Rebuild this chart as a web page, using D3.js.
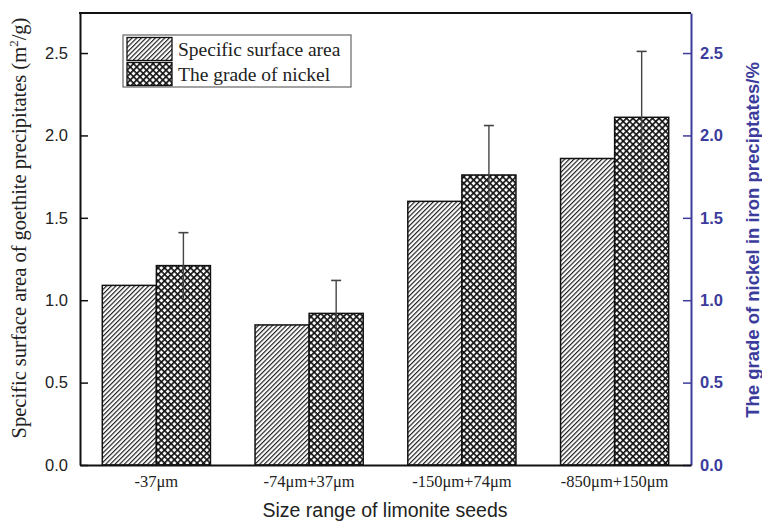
<!DOCTYPE html>
<html>
<head>
<meta charset="utf-8">
<title>Limonite seeds</title>
<script src="https://cdnjs.cloudflare.com/ajax/libs/d3/7.8.5/d3.min.js"></script>
<style>
  body { margin: 0; background: #fff; }
  svg { display: block; }
  .serif { font-family: "Liberation Serif", "Times New Roman", serif; }
  .sans { font-family: "Liberation Sans", Arial, Helvetica, sans-serif; }
</style>
</head>
<body>
<script>
    // data
    const categories = ['-37\u03bcm', '-74\u03bcm+37\u03bcm', '-150\u03bcm+74\u03bcm', '-850\u03bcm+150\u03bcm'];
    const surfaceArea = [1.09, 0.85, 1.60, 1.86];
    const nickelGrade = [1.21, 0.92, 1.76, 2.11];
    const nickelErr = [0.20, 0.20, 0.30, 0.40];
    const yTicks = [0, 0.5, 1.0, 1.5, 2.0, 2.5];
    const seriesNames = ['Specific surface area', 'The grade of nickel'];

    const W = 762, H = 522;
    const margin = {top: 13, right: 71, bottom: 57, left: 80};
    const iw = W - margin.left - margin.right;
    const ih = H - margin.top - margin.bottom;
    const blue = '#3c3c9c';

    const svg = d3.select('body').append('svg')
        .attr('width', W)
        .attr('height', H);

    // hatch patterns
    const defs = svg.append('defs');
    const diag = defs.append('pattern')
        .attr('id', 'diag')
        .attr('patternUnits', 'userSpaceOnUse')
        .attr('width', 3.3).attr('height', 10)
        .attr('patternTransform', 'rotate(45)');
    diag.append('rect').attr('width', 3.3).attr('height', 10).attr('fill', '#fff');
    diag.append('line').attr('x1', 0.6).attr('y1', 0).attr('x2', 0.6).attr('y2', 10)
        .attr('stroke', '#111').attr('stroke-width', 1.1);

    const cross = defs.append('pattern')
        .attr('id', 'cross')
        .attr('patternUnits', 'userSpaceOnUse')
        .attr('width', 4.6).attr('height', 4.6)
        .attr('patternTransform', 'rotate(45)');
    cross.append('rect').attr('width', 4.6).attr('height', 4.6).attr('fill', '#fff');
    cross.append('path').attr('d', 'M0.8,0V4.6M0,0.8H4.6')
        .attr('stroke', '#111').attr('stroke-width', 1.7);

    const g = svg.append('g')
        .attr('transform', `translate(${margin.left},${margin.top})`);

    const x = d3.scaleBand().domain(categories).range([0, iw]).padding(0);
    const barW = x.bandwidth() * 0.354;
    const y = d3.scaleLinear().domain([0, 2.743]).range([ih, 0]);
    const y2 = d3.scaleLinear().domain([0, 2.743]).range([ih, 0]);

    // bars
    g.selectAll('rect.area').data(surfaceArea).enter()
        .append('rect')
        .attr('class', 'area')
        .attr('x', (d, i) => x(categories[i]) + x.bandwidth() / 2 - barW)
        .attr('y', d => y(d))
        .attr('width', barW)
        .attr('height', d => ih - y(d))
        .attr('fill', 'url(#diag)')
        .attr('stroke', '#111')
        .attr('stroke-width', 1.5);

    g.selectAll('rect.nickel').data(nickelGrade).enter()
        .append('rect')
        .attr('class', 'nickel')
        .attr('x', (d, i) => x(categories[i]) + x.bandwidth() / 2)
        .attr('y', d => y2(d))
        .attr('width', barW)
        .attr('height', d => ih - y2(d))
        .attr('fill', 'url(#cross)')
        .attr('stroke', '#111')
        .attr('stroke-width', 1.5);

    // error bars on nickel grade
    const err = g.selectAll('g.err').data(nickelGrade).enter()
        .append('g').attr('class', 'err')
        .attr('transform', (d, i) => `translate(${x(categories[i]) + x.bandwidth() / 2 + barW / 2},0)`);
    err.append('line')
        .attr('y1', (d, i) => y2(d - nickelErr[i]))
        .attr('y2', (d, i) => y2(d + nickelErr[i]))
        .attr('stroke', '#444').attr('stroke-width', 1.4);
    err.append('line')
        .attr('x1', -5).attr('x2', 5)
        .attr('y1', (d, i) => y2(d + nickelErr[i]))
        .attr('y2', (d, i) => y2(d + nickelErr[i]))
        .attr('stroke', '#444').attr('stroke-width', 1.6);

    // left axis
    const yAxis = g.append('g')
        .call(d3.axisLeft(y).tickValues(yTicks).tickFormat(d3.format('.1f')).tickSizeInner(-8).tickSizeOuter(0).tickPadding(12));
    yAxis.select('.domain').attr('stroke', '#111').attr('stroke-width', 2);
    yAxis.selectAll('.tick line').attr('stroke', '#111').attr('stroke-width', 1.5);
    yAxis.selectAll('.tick text').attr('class', 'sans').attr('font-size', 16.5).attr('fill', '#222');

    // right axis
    const y2Axis = g.append('g')
        .attr('transform', `translate(${iw},0)`)
        .call(d3.axisRight(y2).tickValues(yTicks).tickFormat(d3.format('.1f')).tickSizeInner(-8).tickSizeOuter(0).tickPadding(9));
    y2Axis.select('.domain').attr('stroke', blue).attr('stroke-width', 2);
    y2Axis.selectAll('.tick line').attr('stroke', blue).attr('stroke-width', 1.5);
    y2Axis.selectAll('.tick text').attr('class', 'sans').attr('font-size', 16.5)
        .attr('font-weight', 'bold').attr('fill', blue);

    // bottom axis
    const xAxis = g.append('g')
        .attr('transform', `translate(0,${ih})`)
        .call(d3.axisBottom(x).tickSize(0).tickPadding(10));
    xAxis.select('.domain').attr('stroke', '#111').attr('stroke-width', 2);
    xAxis.selectAll('.tick text').attr('class', 'serif').attr('font-size', 16.5).attr('fill', '#222');

    // top frame
    g.append('line')
        .attr('x1', -1).attr('x2', iw).attr('y1', 0).attr('y2', 0)
        .attr('stroke', '#111').attr('stroke-width', 2);

    // axis titles
    svg.append('text')
        .attr('class', 'sans')
        .attr('x', 385)
        .attr('y', 517)
        .attr('text-anchor', 'middle')
        .attr('font-size', 19.5)
        .attr('fill', '#222')
        .text('Size range of limonite seeds');

    const yl = svg.append('text')
        .attr('class', 'serif')
        .attr('transform', 'translate(26,228) rotate(-90)')
        .attr('text-anchor', 'middle')
        .attr('font-size', 20.5)
        .attr('fill', '#222');
    yl.append('tspan').text('Specific surface area of goethite precipitates (m');
    yl.append('tspan').attr('font-size', 13).attr('dy', -8).text('2');
    yl.append('tspan').attr('dy', 8).text('/g)');

    svg.append('text')
        .attr('class', 'sans')
        .attr('transform', 'translate(759,240) rotate(-90)')
        .attr('text-anchor', 'middle')
        .attr('font-size', 18.5)
        .attr('font-weight', 'bold')
        .attr('fill', blue)
        .text('The grade of nickel in iron preciptates/%');

    // legend
    const lg = svg.append('g').attr('transform', 'translate(123,35)');
    lg.append('rect')
        .attr('width', 228).attr('height', 52)
        .attr('fill', '#fff').attr('stroke', '#666').attr('stroke-width', 1.2);
    const items = lg.selectAll('g.item').data(seriesNames).enter()
        .append('g').attr('class', 'item')
        .attr('transform', (d, i) => `translate(4,${2.5 + i * 25})`);
    items.append('rect')
        .attr('width', 45).attr('height', 23)
        .attr('fill', (d, i) => i === 0 ? 'url(#diag)' : 'url(#cross)')
        .attr('stroke', '#111').attr('stroke-width', 1.3);
    items.append('text')
        .attr('class', 'serif')
        .attr('x', 51).attr('y', 18)
        .attr('font-size', 19.5)
        .attr('fill', '#222')
        .text(d => d);
</script>
</body>
</html>
